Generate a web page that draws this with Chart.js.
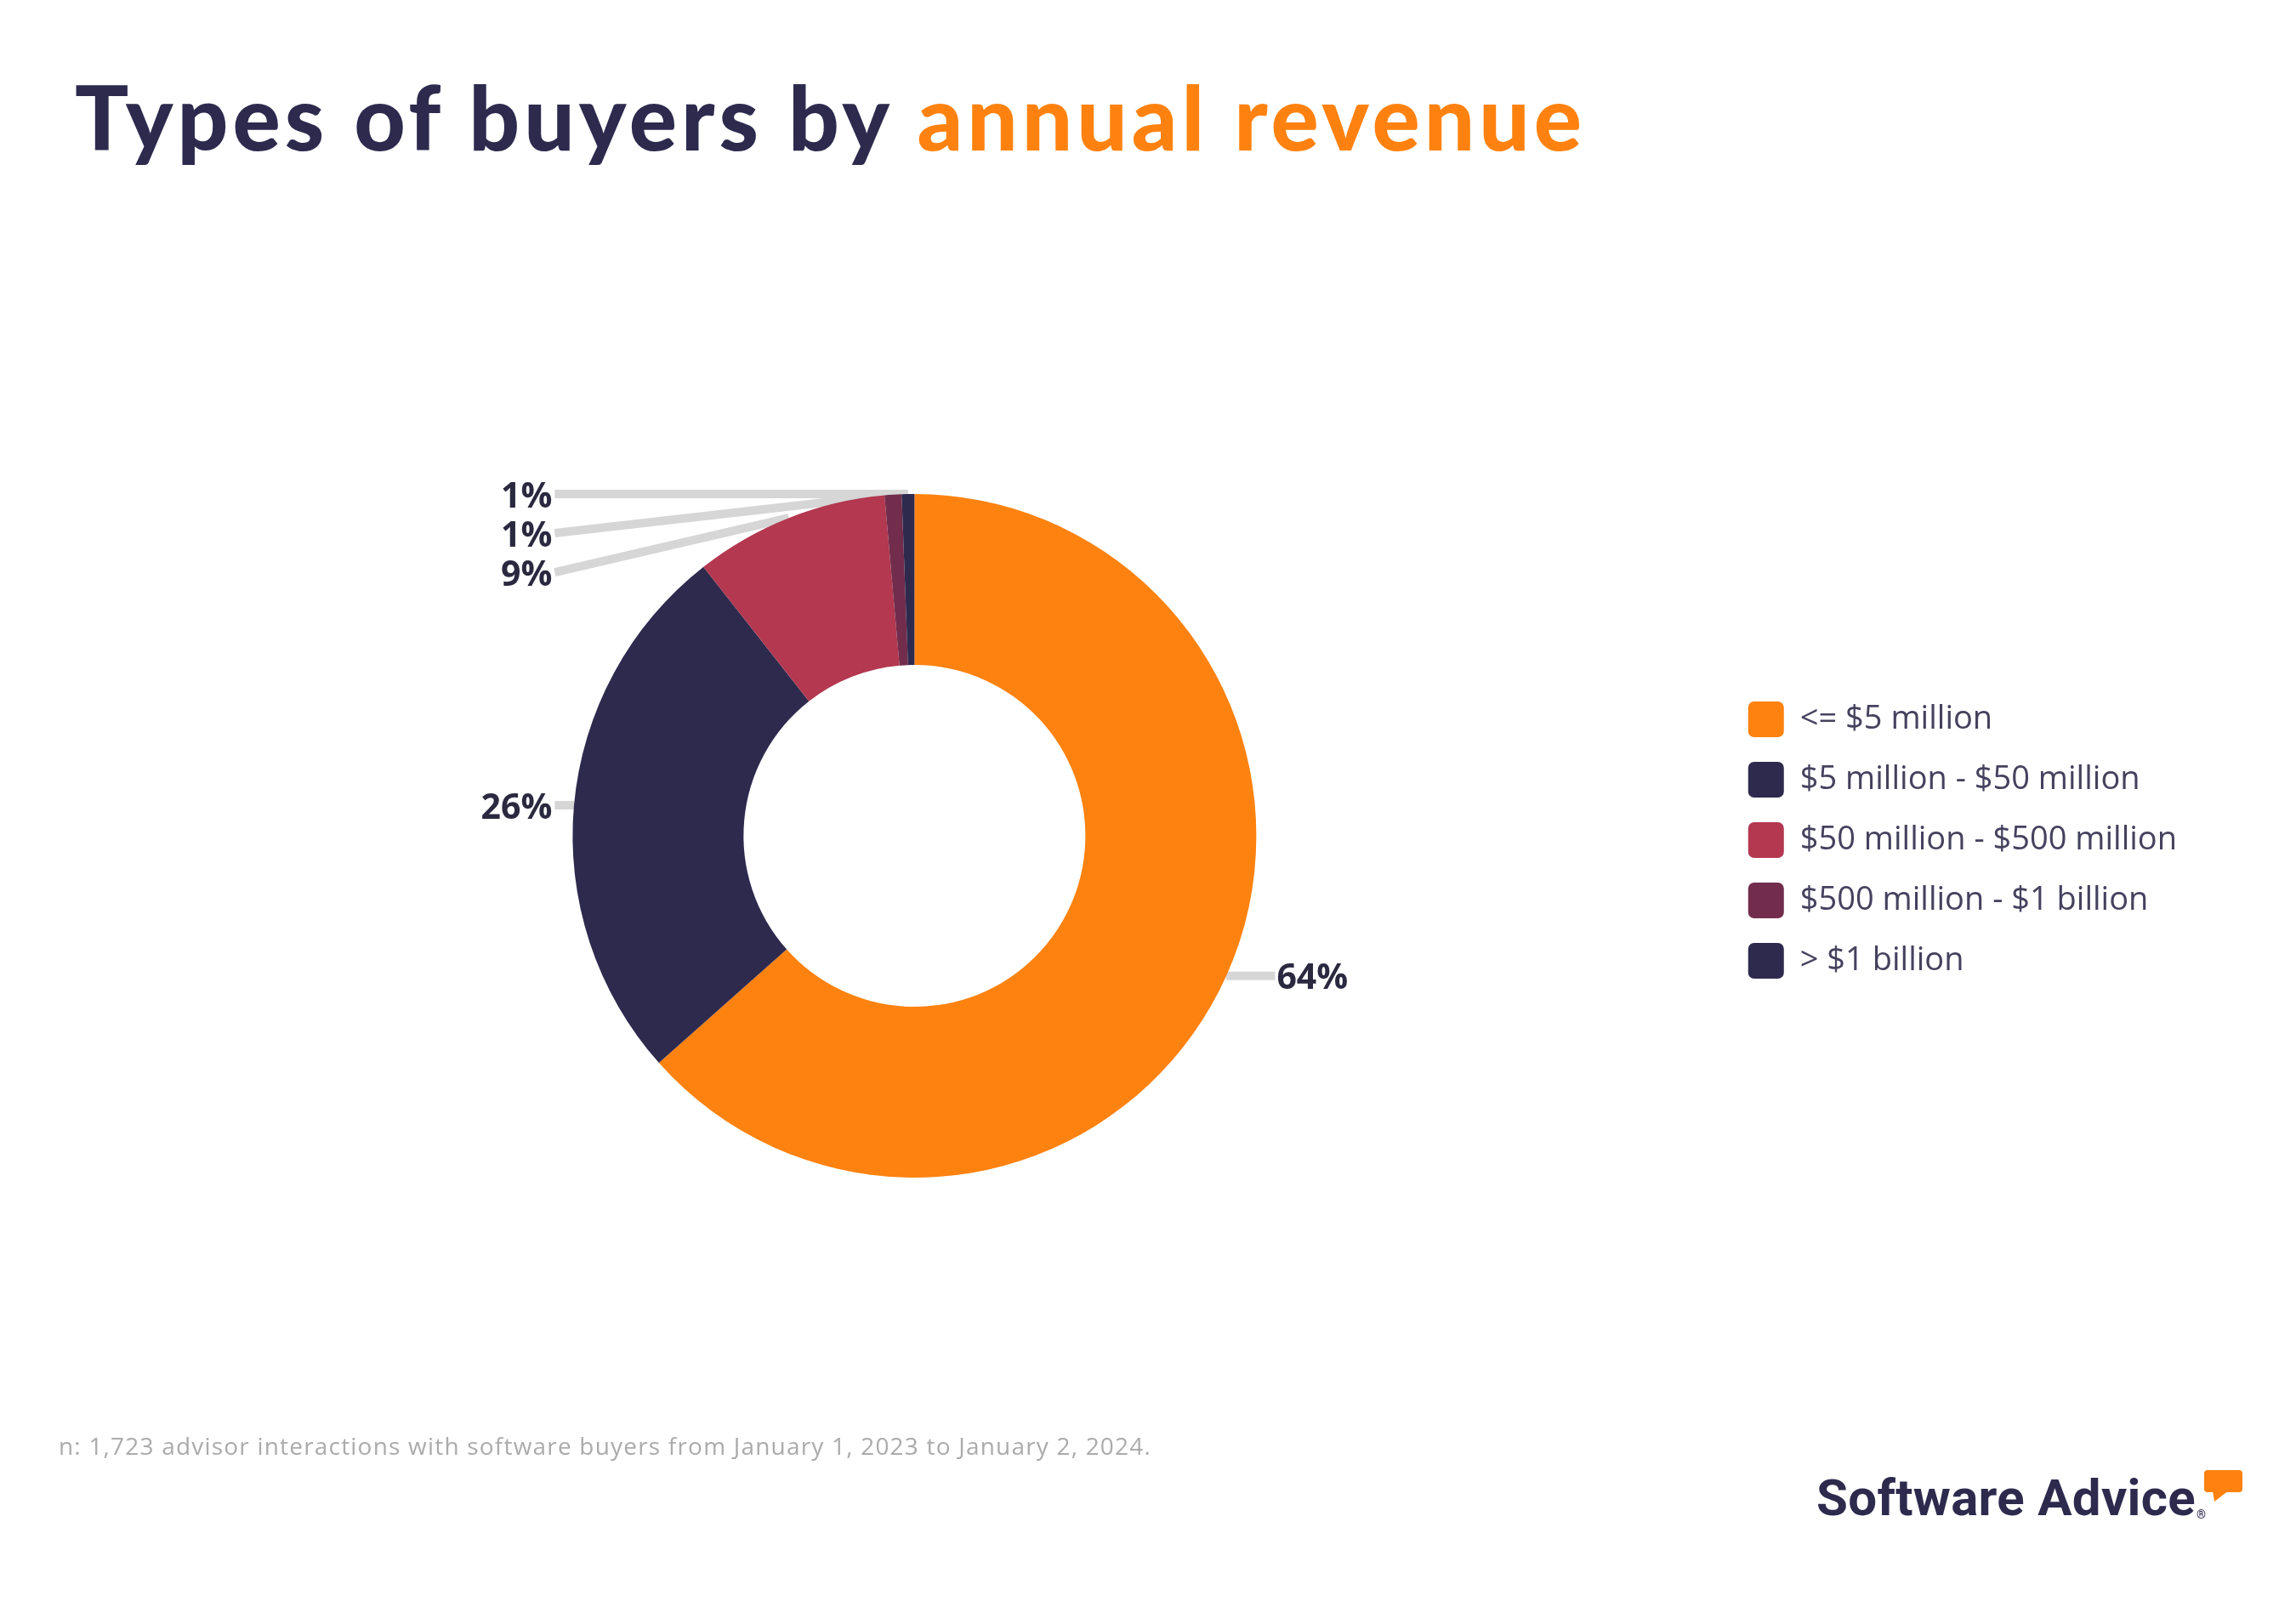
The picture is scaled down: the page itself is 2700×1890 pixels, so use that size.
<!DOCTYPE html>
<html>
<head>
<meta charset="utf-8">
<title>Types of buyers by annual revenue</title>
<script src="https://cdn.jsdelivr.net/npm/chart.js@4.4.1/dist/chart.umd.min.js"></script>
<style>
  html, body { margin: 0; padding: 0; background: #fff; }
  #page { position: relative; width: 2700px; height: 1890px; overflow: hidden; background: #fff; }
  #chart { position: absolute; left: 0; top: 0; }
  .title { position: absolute; left: 88px; top: 84px; margin: 0; font: 900 105px/1 Lato, sans-serif; color: #2d2a4e; white-space: nowrap; letter-spacing: 5px; }
  .title span { color: #ff8210; }
  .note { position: absolute; left: 69px; top: 1686px; font: 400 28px/1 'Open Sans', sans-serif; color: #ababab; white-space: nowrap; letter-spacing: 1.2px; }
  .logo { position: absolute; left: 2136px; top: 1732px; font: 700 60px/1 Roboto, sans-serif; color: #2d2a4e; white-space: nowrap; letter-spacing: 0.3px; }
  .reg { position: absolute; left: 2583px; top: 1774px; font: 700 14px/1 Roboto, sans-serif; color: #2d2a4e; }
  .bubble { position: absolute; left: 2589px; top: 1726px; }
</style>
</head>
<body>
<div id="page">
  <canvas id="chart" width="2700" height="1890"></canvas>
  <h1 class="title">Types of buyers by <span>annual revenue</span></h1>
  <div class="note">n: 1,723 advisor interactions with software buyers from January 1, 2023 to January 2, 2024.</div>
  <div class="logo">Software Advice</div>
  <div class="reg">®</div>
  <svg class="bubble" width="52" height="44" viewBox="0 0 52 44">
    <rect x="3" y="3" width="45" height="26" rx="4" fill="#ff8210"/>
    <polygon points="13,27 15,40 32,27" fill="#ff8210"/>
  </svg>
</div>
<script>
// ===== データ =====
const categories = ['<= $5 million', '$5 million - $50 million', '$50 million - $500 million', '$500 million - $1 billion', '> $1 billion'];
const shares = [63.5, 26.0, 9.2, 0.8, 0.6];   // % of buyers
const sliceColors = ['#fd8210', '#2e2a4e', '#b33850', '#722d4c', '#2e2a4e'];

const LABEL_GAP = 24;   // distance between ring and label
const LABEL_STEP = 46;  // min vertical spacing of stacked labels

// ===== ラベル位置の計算 =====
function layoutLabels(chart) {
    const meta = chart.getDatasetMeta(0);
    const items = meta.data.map((arc, i) => {
        const p = arc.getProps(['x', 'y', 'startAngle', 'endAngle', 'outerRadius'], true);
        const mid = (p.startAngle + p.endAngle) / 2;
        const px = p.x + Math.cos(mid) * p.outerRadius;
        const py = p.y + Math.sin(mid) * p.outerRadius;
        const right = Math.cos(mid) >= 0;
        return {
            px: px, py: py, y: py, right: right,
            x: right ? p.x + p.outerRadius + LABEL_GAP : p.x - p.outerRadius - LABEL_GAP,
            text: Math.round(shares[i]) + '%'
        };
    });
    [true, false].forEach(side => {
        const list = items.filter(o => o.right === side).sort((a, b) => a.y - b.y);
        for (let k = 1; k < list.length; k++) {
            if (list[k].y < list[k - 1].y + LABEL_STEP) list[k].y = list[k - 1].y + LABEL_STEP;
        }
    });
    return items;
}

const sliceLabels = {
    id: 'sliceLabels',
    beforeDatasetsDraw(chart) {
        const ctx = chart.ctx;
        ctx.save();
        ctx.strokeStyle = '#d6d6d6';
        ctx.lineWidth = 10;
        ctx.lineCap = 'butt';
        layoutLabels(chart).forEach(o => {
            ctx.beginPath();
            ctx.moveTo(o.right ? o.x - 2 : o.x + 3, o.y);
            ctx.lineTo(o.px, o.py);
            ctx.stroke();
        });
        ctx.restore();
    },
    afterDatasetsDraw(chart) {
        const ctx = chart.ctx;
        ctx.save();
        ctx.font = "700 41px 'Open Sans', sans-serif";
        ctx.fillStyle = '#2a2940';
        ctx.textBaseline = 'middle';
        layoutLabels(chart).forEach(o => {
            ctx.textAlign = o.right ? 'left' : 'right';
            ctx.fillText(o.text, o.x, o.y + 4);
        });
        ctx.restore();
    }
};

const ctx = document.getElementById('chart').getContext('2d');
new Chart(ctx, {
    type: 'doughnut',
    data: {
        labels: categories,
        datasets: [{
            data: shares,
            backgroundColor: sliceColors,
            borderWidth: 0,
            radius: 402,
            cutout: '50%'
        }]
    },
    options: {
        responsive: false,
        animation: false,
        devicePixelRatio: 1,
        events: [],
        layout: { padding: { left: 124, right: 130, top: 500, bottom: 424 } },
        plugins: {
            legend: {
                position: 'right',
                maxWidth: 545,
                title: { display: true, text: '', padding: 0, font: { size: 10, lineHeight: 1 } },
                labels: {
                    boxWidth: 42,
                    boxHeight: 42,
                    padding: 29,
                    useBorderRadius: true,
                    borderRadius: 7,
                    color: '#45425f',
                    font: { family: "'Open Sans', sans-serif", size: 38 }
                }
            },
            tooltip: { enabled: false }
        }
    },
    plugins: [sliceLabels]
});
</script>
</body>
</html>
